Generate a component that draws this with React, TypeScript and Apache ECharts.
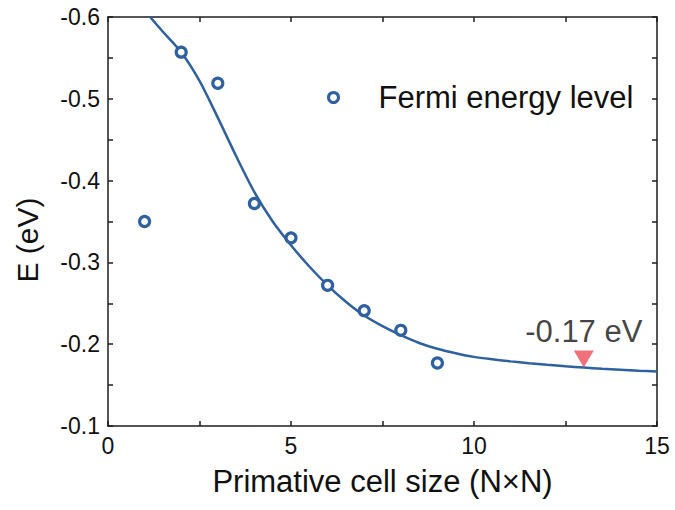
import React, { useEffect, useRef } from "react";
import * as echarts from "echarts";

const cellSize = [1, 2, 3, 4, 5, 6, 7, 8, 9];
const fermiEnergy = [-0.35, -0.557, -0.519, -0.372, -0.33, -0.272, -0.241, -0.217, -0.177];

const fitX = [
  1.15, 1.5, 2, 2.5, 3, 3.5, 4, 4.5, 5, 5.5, 6, 6.5, 7, 7.5, 8, 8.5, 9, 9.5, 10, 10.5, 11, 11.5, 12,
  12.5, 13, 13.5, 14, 14.5, 15,
];
const fitY = [
  -0.6, -0.582, -0.557, -0.522, -0.477, -0.43, -0.386, -0.35, -0.321, -0.295, -0.272, -0.252,
  -0.235, -0.222, -0.211, -0.2015, -0.1945, -0.189, -0.1845, -0.1815, -0.179, -0.1768, -0.1748,
  -0.173, -0.1715, -0.170, -0.1688, -0.1676, -0.1665,
];

const markerX = [13];
const markerY = [-0.1715];
const markerLabel = "-0.17 eV";

const seriesName = "Fermi energy level";
const xTitle = "Primative cell size (N\u00d7N)";
const yTitle = "E (eV)";

const BLUE = "#2f61a0";
const RED = "#ec4d5b";
const AXIS = "#1e1e1e";
const FONT = "Liberation Sans, Arial, sans-serif";

export default function App() {
  const ref = useRef<HTMLDivElement>(null);
  useEffect(() => {
    if (!ref.current) return;
    const chart = echarts.init(ref.current, null, { renderer: "svg" });
    const axisLine = { show: true, onZero: false, lineStyle: { color: AXIS, width: 1.5 } };
    const axisTick = { show: true, inside: true, length: 5, lineStyle: { color: AXIS, width: 1.5 } };
    chart.setOption({
      animation: false,
      backgroundColor: "#ffffff",
      textStyle: { fontFamily: FONT },
      grid: { left: 108, right: 18, top: 17, bottom: 84, containLabel: false },
      legend: {
        left: 327,
        top: 82,
        padding: 0,
        itemWidth: 80,
        itemHeight: 10,
        data: [
          {
            name: seriesName,
            icon: "circle",
            itemStyle: { color: "#ffffff", borderColor: BLUE, borderWidth: 3 },
          },
        ],
        textStyle: { fontSize: 31, color: "#111", fontFamily: FONT },
      },
      xAxis: [
        {
          type: "value",
          min: 0,
          max: 15,
          interval: 2.5,
          position: "bottom",
          axisLine,
          axisTick,
          splitLine: { show: false },
          axisLabel: {
            color: "#111",
            fontSize: 23,
            fontFamily: FONT,
            margin: 8,
            formatter: (v: number) => (Math.abs(v / 5 - Math.round(v / 5)) < 1e-6 ? String(Math.round(v)) : ""),
          },
          name: xTitle,
          nameLocation: "middle",
          nameGap: 40,
          nameTextStyle: { fontSize: 31, color: "#111", fontFamily: FONT },
        },
        {
          type: "value",
          min: 0,
          max: 15,
          interval: 2.5,
          position: "top",
          axisLine,
          axisTick,
          splitLine: { show: false },
          axisLabel: { show: false },
        },
      ],
      yAxis: [
        {
          type: "value",
          min: -0.6,
          max: -0.1,
          interval: 0.05,
          inverse: true,
          position: "left",
          axisLine,
          axisTick,
          splitLine: { show: false },
          axisLabel: {
            color: "#111",
            fontSize: 23,
            fontFamily: FONT,
            margin: 8,
            formatter: (v: number) =>
              Math.abs(v * 10 - Math.round(v * 10)) < 1e-6 ? (Math.round(v * 10) / 10).toFixed(1) : "",
          },
        },
        {
          type: "value",
          min: -0.6,
          max: -0.1,
          interval: 0.05,
          inverse: true,
          position: "right",
          axisLine,
          axisTick,
          splitLine: { show: false },
          axisLabel: { show: false },
        },
      ],
      graphic: [
        {
          type: "text",
          x: 27,
          y: 240,
          rotation: Math.PI / 2,
          style: {
            text: yTitle,
            font: `30px ${FONT}`,
            fill: "#111",
            textAlign: "center",
            textVerticalAlign: "middle",
          },
        },
      ],
      series: [
        {
          name: "fit",
          type: "line",
          data: fitX.map((x, i) => [x, fitY[i]]),
          smooth: 0.3,
          showSymbol: false,
          symbol: "none",
          lineStyle: { color: BLUE, width: 2.5 },
          clip: true,
          z: 2,
        },
        {
          name: seriesName,
          type: "scatter",
          data: cellSize.map((x, i) => [x, fermiEnergy[i]]),
          symbol: "circle",
          symbolSize: 10,
          itemStyle: { color: "#ffffff", borderColor: BLUE, borderWidth: 3.2, opacity: 1 },
          z: 3,
        },
        {
          name: "marker",
          type: "scatter",
          data: markerX.map((x, i) => [x, markerY[i]]),
          symbol: "triangle",
          symbolRotate: 180,
          symbolSize: [20, 17],
          symbolOffset: [0, -8.5],
          itemStyle: { color: RED },
          label: {
            show: true,
            position: "top",
            distance: 4,
            formatter: markerLabel,
            fontSize: 31,
            color: "#111",
            fontFamily: FONT,
          },
          z: 4,
        },
      ],
    });
    return () => chart.dispose();
  }, []);
  return <div ref={ref} style={{ width: 675, height: 510, position: "absolute", left: 0, top: 0 }} />;
}
